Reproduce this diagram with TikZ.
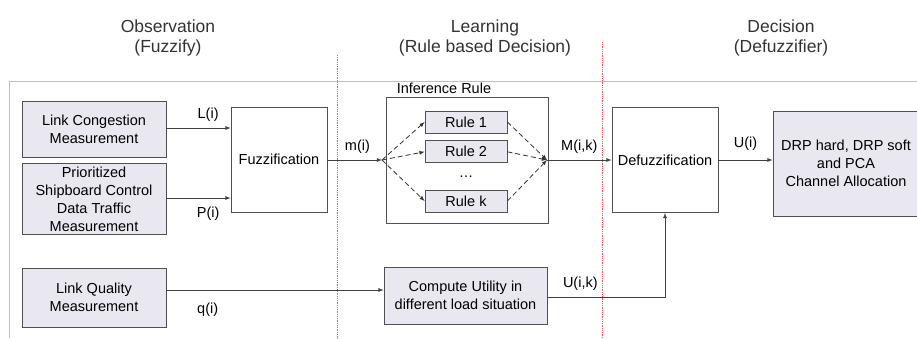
\documentclass[tikz,border=0pt]{standalone}
\usepackage{fontspec}
\setmainfont{Liberation Sans}
\usepackage{tikz}
\usetikzlibrary{shapes,arrows,positioning,calc}
\usepackage{xcolor}
\definecolor{boxfill}{HTML}{E9E8F0}
\definecolor{boxline}{HTML}{505050}

\begin{document}
\begin{tikzpicture}[
    x=1pt, y=-1pt, >=latex,
    font=\fontsize{14.5}{18}\selectfont,
    measure/.style={rectangle, draw=boxline, fill=boxfill, thick, inner sep=0pt, align=center},
    stage/.style={rectangle, draw=boxline, fill=white, thick, inner sep=0pt, align=center},
    rulebox/.style={rectangle, draw=boxline, fill=boxfill, thick, inner sep=0pt, minimum width=82pt, minimum height=22pt},
    title/.style={align=center, font=\fontsize{17.5}{20}\selectfont, text=black!80},
    link/.style={->, draw=black!75, thick},
    dlink/.style={->, draw=black!80, thick, dash pattern=on 5pt off 3pt},
    sep/.style={draw=red!70, densely dotted, thick}
]
\useasboundingbox (0,0) rectangle (917,338);

% Frame and stage separators
\draw[gray!50, thick] (9,338) -- (9,81) -- (917,81);
\draw[sep] (337,55) -- (337,338);
\draw[sep] (602,42) -- (602,338);

% Stage titles
\node (obs) [title] at (168,38) {Observation\\(Fuzzify)};
\node (learn) [title] at (485,38) {Learning\\(Rule based Decision)};
\node (decide) [title] at (781,38) {Decision\\(Defuzzifier)};

% Measurements
\node (congest) [measure, minimum width=144pt, minimum height=56pt] at (94,129) {Link Congestion\\Measurement};
\node (traffic) [measure, minimum width=144pt, minimum height=71pt, below=6pt of congest] {Prioritized\\Shipboard Control\\Data Traffic\\Measurement};
\node (quality) [measure, minimum width=144pt, minimum height=59pt] at (94,297.5) {Link Quality\\Measurement};

% Fuzzification and inference
\node (fuzz) [stage, minimum width=96pt, minimum height=105pt] at (279,159.5) {Fuzzification};
\node (infer) [stage, minimum width=162pt, minimum height=126pt] at (467,160) {};
\node (inferlabel) [anchor=south west, inner sep=1pt] at (infer.north west) [xshift=10pt, yshift=2pt] {Inference Rule};
\node (rule1) [rulebox] at (466,122) {Rule 1};
\node (rule2) [rulebox, below=7pt of rule1] {Rule 2};
\node (rulek) [rulebox] at (466,201) {Rule k};
\node (dots) at (466,177) {\dots};
\node (compute) [measure, minimum width=163pt, minimum height=57pt] at (465.5,295.5) {Compute Utility in\\different load situation};

% Decision
\node (defuzz) [stage, minimum width=106pt, minimum height=105pt] at (665,160) {Defuzzification};
\node (drp) [measure, minimum width=146pt, minimum height=105pt] at (846,163.5) {DRP hard, DRP soft\\and PCA\\Channel Allocation};

\coordinate (split) at (382,160);
\coordinate (merge) at (547,160);
\coordinate (qline) at (0,290);

% Connections
\draw[link] (congest.east |- 0,128) -- node[pos=0.65, above=3pt] {L(i)} (fuzz.west |- 0,128);
\draw[link] (traffic.east |- 0,198) -- node[pos=0.65, below=5pt] {P(i)} (fuzz.west |- 0,198);
\draw[link] (quality.east |- qline) -- node[pos=0.19, below=9pt] {q(i)} (compute.west |- qline);
\draw[link] (fuzz.east |- split) -- node[pos=0.55, above=3pt] {m(i)} (split);
\draw[dlink] (split) -- (rule1.west);
\draw[dlink] (split) -- (rule2.west);
\draw[dlink] (split) -- (rulek.west);
\draw[dlink] (rule1.east) -- (merge);
\draw[dlink] (rule2.east) -- (merge);
\draw[dlink] (rulek.east) -- (merge);
\draw[link] (merge) -- node[pos=0.5, above=3pt] {M(i,k)} (defuzz.west |- merge);
\draw[link] (defuzz.east |- merge) -- node[pos=0.5, above=6pt] {U(i)} (drp.west |- merge);
\draw[link] (compute.east |- 0,297) -- node[pos=0.28, above=3pt] {U(i,k)} (defuzz.south |- 0,297) -- (defuzz.south);

\end{tikzpicture}
\end{document}
